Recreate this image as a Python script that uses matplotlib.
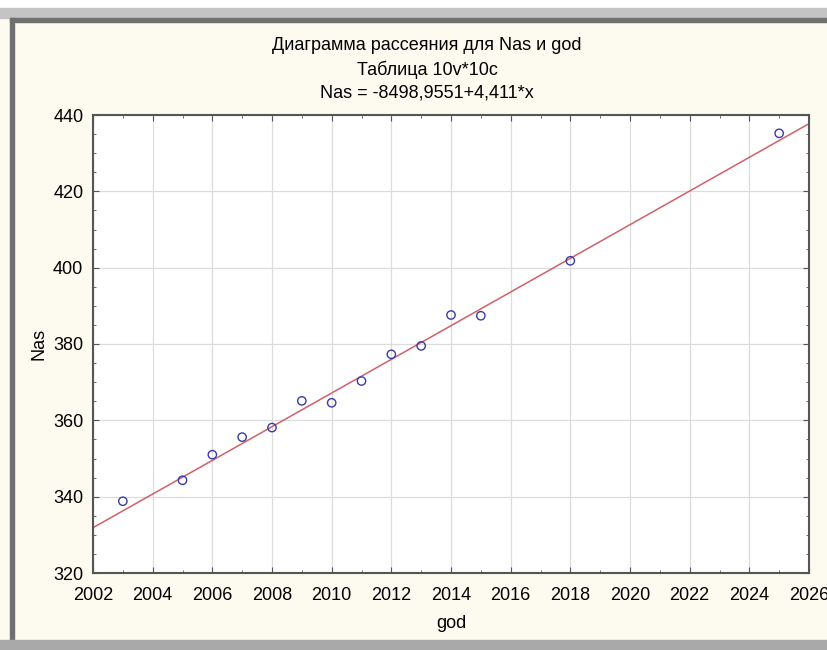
import numpy as np
import matplotlib.pyplot as plt
from matplotlib.patches import Rectangle

plt.rcParams['font.family'] = ['Liberation Sans', 'DejaVu Sans']

### DATA
god = [2003, 2005, 2006, 2007, 2008, 2009, 2010, 2011, 2012, 2013, 2014, 2015, 2018, 2025]
nas = [338.8, 344.3, 351.0, 355.6, 358.1, 365.1, 364.6, 370.3, 377.3, 379.5, 387.6, 387.4, 401.8, 435.2]
intercept = -8498.9551
slope = 4.411
xTicks = list(range(2002, 2027, 2))
yTicks = [320, 340, 360, 380, 400, 420, 440]
titleLines = ['Диаграмма рассеяния для Nas и god', 'Таблица 10v*10c', 'Nas = -8498,9551+4,411*x']

### PLOT
W, H = 827, 650
fig = plt.figure(figsize=(W/100, H/100), dpi=100)
fig.patch.set_facecolor('#fdfaf0')

# window frame bits from the screenshot
fig.patches.append(Rectangle((0, 1-8/H), 1, 8/H, transform=fig.transFigure, color='white', zorder=0))
fig.patches.append(Rectangle((0, 1-18/H), 1, 10/H, transform=fig.transFigure, color='#c4c4c4', zorder=0))
fig.patches.append(Rectangle((10/W, 1-22/H), 1, 4/H, transform=fig.transFigure, color='#707070', zorder=0))
fig.patches.append(Rectangle((10/W, 0), 4/W, 1-18/H, transform=fig.transFigure, color='#707070', zorder=0))
fig.patches.append(Rectangle((0, 0), 1, 10/H, transform=fig.transFigure, color='#a9a9a9', zorder=0))

ax = fig.add_axes([93/W, 1-573/H, (809-93)/W, (573-115)/H])
ax.set_facecolor('white')

xs = np.array([2002, 2026])
ax.plot(xs, intercept + slope*xs, c='#d0606a', lw=1.1, zorder=2)
ax.scatter(god, nas, s=36, facecolors='none', edgecolors='#3a3aa8', linewidths=1.0, zorder=3)

ax.set_xlim(2002, 2026)
ax.set_ylim(320, 440)
ax.set_xticks(xTicks)
ax.set_yticks(yTicks)
ax.set_xticks(range(2002, 2027), minor=True)
ax.set_yticks(range(320, 441, 5), minor=True)
ax.grid(True, which='major', color='#dcdcdc', lw=0.9)
ax.tick_params(which='both', direction='in', top=True, right=True, labelsize=13, color='#555555')
ax.tick_params(which='major', length=4)
ax.tick_params(which='minor', length=2)
ax.tick_params(axis='x', pad=10)
ax.tick_params(axis='y', pad=7)
for s in ax.spines.values():
    s.set_color('#555555')
    s.set_linewidth(1.5)

ax.set_xlabel('god', fontsize=13, labelpad=8)
ax.set_ylabel('Nas', fontsize=13, labelpad=4)
for i, t in enumerate(titleLines):
    fig.text(427/W, 1 - (46 + 23.5*i)/H, t, ha='center', va='center', fontsize=13)

plt.savefig('out.png', dpi=100, facecolor=fig.get_facecolor())
